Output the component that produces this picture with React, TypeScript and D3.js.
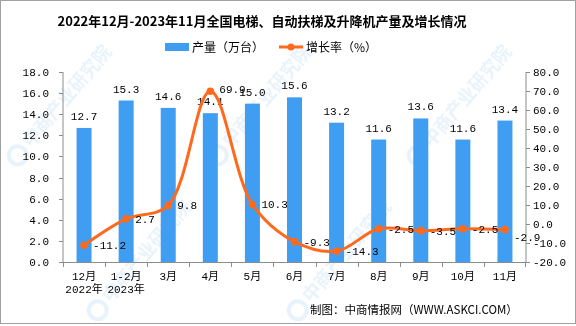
import React from "react";
import * as d3 from "d3";

const categories = ["12月", "1-2月", "3月", "4月", "5月", "6月", "7月", "8月", "9月", "10月", "11月"];
const subLabels = ["2022年", "2023年", "", "", "", "", "", "", "", "", ""];
const production = [12.7, 15.3, 14.6, 14.1, 15.0, 15.6, 13.2, 11.6, 13.6, 11.6, 13.4];
const growth = [-11.2, 2.7, 9.8, 69.9, 10.3, -9.3, -14.3, -2.5, -3.5, -2.5, -2.9];
const leftTicks = [0, 2, 4, 6, 8, 10, 12, 14, 16, 18];
const rightTicks = [-20, -10, 0, 10, 20, 30, 40, 50, 60, 70, 80];

const W = 576;
const H = 326;
const M = { left: 63, right: 526, top: 72, bottom: 262 };
const BAR = "#409ef2";
const LINE = "#fe6a1d";
const AXIS = "#8c8c8c";
const NUMFONT = "'Liberation Mono', 'Noto Sans CJK SC', monospace";
const CJK = "'Noto Sans CJK SC', sans-serif";

export default function App() {
  const x = d3.scaleBand<string>().domain(categories).range([M.left, M.right]).paddingInner(0).paddingOuter(0);
  const yL = d3.scaleLinear().domain([0, 18]).range([M.bottom, M.top]);
  const yR = d3.scaleLinear().domain([-20, 80]).range([M.bottom, M.top]);
  const bw = 15;
  const cx = (c: string) => (x(c) as number) + x.bandwidth() / 2;
  const pts: [number, number][] = categories.map((c, i) => [cx(c), yR(growth[i])]);
  const linePath = d3.line().curve(d3.curveCatmullRom.alpha(0.5))(pts) as string;

  const wm: [number, number][] = [
    [30, 150], [230, 150], [430, 150],
    [110, 305], [310, 305],
  ];

  return (
    <svg width={W} height={H} style={{ position: "absolute", left: 0, top: 0, background: "#fff" }}>
      <rect x={0.5} y={0.5} width={W - 1} height={H - 3} fill="#fff" stroke="#a0a0a0" />
      {/* watermarks */}
      <g opacity={0.1}>
        {wm.map(([a, b], i) => (
          <g key={i} transform={`translate(${a},${b}) rotate(-50)`}>
            <circle cx={-12} cy={-6} r={9} fill="none" stroke="#1d7fd6" strokeWidth={4} />
            <text x={2} y={0} fontFamily={CJK} fontSize={18} fontWeight="bold" fill="#1d7fd6">中商产业研究院</text>
          </g>
        ))}
      </g>
      {/* title */}
      <text x={262} y={26} textAnchor="middle" fontFamily={CJK} fontWeight="bold" fontSize={13} fill="#000">
        2022年12月-2023年11月全国电梯、自动扶梯及升降机产量及增长情况
      </text>
      {/* legend */}
      <rect x={165} y={43} width={24} height={8} fill={BAR} />
      <text x={192} y={51.5} fontFamily={CJK} fontSize={12} fill="#000">产量（万台）</text>
      <line x1={279} x2={303} y1={47} y2={47} stroke={LINE} strokeWidth={3} />
      <circle cx={291} cy={47} r={3.5} fill={LINE} />
      <text x={306} y={51.5} fontFamily={CJK} fontSize={12} fill="#000">增长率（%）</text>

      {/* bars */}
      {categories.map((c, i) => (
        <rect key={c} x={cx(c) - bw / 2} y={yL(production[i])} width={bw} height={M.bottom - yL(production[i])} fill={BAR} />
      ))}
      {/* axes */}
      <line x1={M.left} x2={M.left} y1={M.top} y2={M.bottom} stroke={AXIS} />
      <line x1={M.right} x2={M.right} y1={M.top} y2={M.bottom} stroke={AXIS} />
      <line x1={M.left} x2={M.right} y1={M.bottom + 0.5} y2={M.bottom + 0.5} stroke={AXIS} />
      {leftTicks.map((t) => (
        <g key={"l" + t}>
          <line x1={M.left - 4} x2={M.left} y1={Math.round(yL(t)) + 0.5} y2={Math.round(yL(t)) + 0.5} stroke={AXIS} />
          <text x={49} y={yL(t) + 4} textAnchor="end" fontFamily={NUMFONT} fontSize={11} fill="#000">{t.toFixed(1)}</text>
        </g>
      ))}
      {rightTicks.map((t) => (
        <g key={"r" + t}>
          <line x1={M.right} x2={M.right + 4} y1={Math.round(yR(t)) + 0.5} y2={Math.round(yR(t)) + 0.5} stroke={AXIS} />
          <text x={533} y={yR(t) + 4} textAnchor="start" fontFamily={NUMFONT} fontSize={11} fill="#000">{t.toFixed(1)}</text>
        </g>
      ))}
      {categories.map((c) => (
        <line key={"t" + c} x1={Math.round(x(c) as number) + 0.5} x2={Math.round(x(c) as number) + 0.5} y1={M.bottom} y2={M.bottom + 5} stroke={AXIS} />
      ))}
      <line x1={M.right - 0.5} x2={M.right - 0.5} y1={M.bottom} y2={M.bottom + 5} stroke={AXIS} />
      {categories.map((c, i) => (
        <g key={"xl" + c}>
          <text x={cx(c)} y={280} textAnchor="middle" fontFamily={NUMFONT} fontSize={11} fill="#000">{c}</text>
          {subLabels[i] && (
            <text x={cx(c)} y={293} textAnchor="middle" fontFamily={NUMFONT} fontSize={11} fill="#000">{subLabels[i]}</text>
          )}
        </g>
      ))}
      {/* bar labels */}
      {categories.map((c, i) => (
        <text key={"bl" + c} x={cx(c)} y={yL(production[i]) - 8} textAnchor="middle" fontFamily={NUMFONT} fontSize={11} fill="#000">
          {production[i].toFixed(1)}
        </text>
      ))}
      {/* line */}
      <path d={linePath} fill="none" stroke={LINE} strokeWidth={3} />
      {pts.map(([px, py], i) => (
        <circle key={"p" + i} cx={px} cy={py} r={3.8} fill={LINE} />
      ))}
      {pts.map(([px, py], i) => (
        <text key={"gl" + i} x={px + 9} y={py + 4 + (i === 10 ? 7 : 0) - (i === 3 ? 2 : 0)} fontFamily={NUMFONT} fontSize={11} fill="#000">
          {growth[i].toFixed(1)}
        </text>
      ))}
      {/* source */}
      <text x={310} y={314} fontFamily={CJK} fontSize={11.5} fill="#000">制图：中商情报网（WWW.ASKCI.COM）</text>
    </svg>
  );
}
